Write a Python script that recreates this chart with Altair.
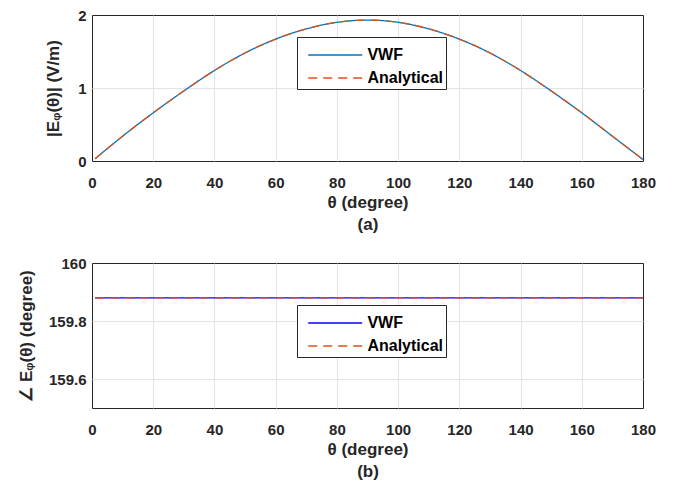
import altair as alt
import pandas as pd

theta_top = [1, 10, 20, 30, 40, 50, 60, 70, 80, 90, 100, 110, 120, 130, 140, 150, 160, 170, 180]
vwf_mag = [0.03, 0.34, 0.66, 0.96, 1.24, 1.48, 1.67, 1.81, 1.90, 1.93, 1.90, 1.81, 1.67, 1.48, 1.24, 0.96, 0.66, 0.34, 0.02]
ana_mag = [0.03, 0.34, 0.66, 0.96, 1.24, 1.48, 1.67, 1.81, 1.90, 1.93, 1.90, 1.81, 1.67, 1.48, 1.24, 0.96, 0.66, 0.34, 0.02]

theta_bot = [1, 45, 90, 135, 180]
vwf_phase = [159.88, 159.88, 159.88, 159.88, 159.88]
ana_phase = [159.88, 159.88, 159.88, 159.88, 159.88]

series = ["VWF", "Analytical"]
x_ticks = [0, 20, 40, 60, 80, 100, 120, 140, 160, 180]
x_grid = [20, 40, 60, 80, 100, 120, 140, 160]

top_df = pd.DataFrame(
    [{"theta": t, "v": v, "s": "VWF"} for t, v in zip(theta_top, vwf_mag)]
    + [{"theta": t, "v": v, "s": "Analytical"} for t, v in zip(theta_top, ana_mag)]
)
bot_df = pd.DataFrame(
    [{"theta": t, "v": v, "s": "VWF"} for t, v in zip(theta_bot, vwf_phase)]
    + [{"theta": t, "v": v, "s": "Analytical"} for t, v in zip(theta_bot, ana_phase)]
)

FONT = "Liberation Sans"


def legend(ly):
    return alt.Legend(
        title=None, orient="none", legendX=205, legendY=ly,
        fillColor="white", strokeColor="#262626", padding=3,
        labelFont=FONT, labelFontSize=16, labelFontWeight="bold", labelColor="black",
        symbolType="M-1.957,0H1.957", symbolSize=760, symbolStrokeWidth=1.5,
        symbolOffset=20.2, labelOffset=17.2, rowPadding=0,
    )


def panel(df, ytitle, ydomain, yticks, ygrid, colors, tag, ytp, height, ly):
    xs = alt.Scale(domain=[0, 180], nice=False)
    ys = alt.Scale(domain=ydomain, nice=False, zero=False)
    base = alt.Chart(df).transform_calculate(o="datum.s == 'VWF' ? 0 : 1")
    grid = base.mark_point(opacity=0).encode(
        x=alt.X("theta:Q", scale=xs, axis=alt.Axis(orient="top", values=x_grid, labels=False, ticks=False,
                                                   domain=False, grid=True, title=None)),
        y=alt.Y("v:Q", scale=ys, axis=alt.Axis(orient="right", values=ygrid, labels=False, ticks=False,
                                               domain=False, grid=True, title=None)),
    )
    lines = base.mark_line(strokeWidth=1.3, interpolate="monotone").encode(
        x=alt.X("theta:Q", scale=xs,
                axis=alt.Axis(values=x_ticks, title=["θ (degree)", tag], ticks=False, labelPadding=14,
                              titlePadding=4, titleLineHeight=22, grid=False, domain=False, format="d",
                              labelOverlap=False, labelFlush=False)),
        y=alt.Y("v:Q", scale=ys,
                axis=alt.Axis(values=yticks, title=ytitle, ticks=False, labelPadding=6,
                              titlePadding=ytp, grid=False, domain=False, format="~g",
                              labelOverlap=False, labelFlush=False)),
        color=alt.Color("s:N", sort=series, scale=alt.Scale(domain=series, range=colors), legend=legend(ly)),
        strokeDash=alt.StrokeDash("s:N", sort=series,
                                  scale=alt.Scale(domain=series, range=[[1, 0], [9, 6]]), legend=legend(ly)),
        order=alt.Order("o:Q"),
    )
    return alt.layer(grid, lines).resolve_axis(x="independent", y="independent").properties(
        width=551, height=height)


top = panel(top_df, "|Eᵩ(θ)| (V/m)", [0, 2], [0, 1, 2], [1], ["#0072BD", "#D95319"], "(a)", 15, 146, 22)
bot = panel(bot_df, "∠ Eᵩ(θ) (degree)", [159.5, 160], [159.6, 159.8, 160], [159.6, 159.8],
            ["#0000FF", "#D95319"], "(b)", 13, 145, 42)

chart = alt.vconcat(top, bot, spacing=22).resolve_scale(
    color="independent", strokeDash="independent"
).configure(
    padding={"left": 8, "top": -1, "right": 5, "bottom": 0}
).configure_axis(
    labelFont=FONT, labelFontSize=15, labelFontWeight="bold", labelColor="#262626",
    titleFont=FONT, titleFontSize=17, titleFontWeight="bold", titleColor="#262626",
    gridColor="#E3E3E3", gridWidth=1,
).configure_view(stroke="#262626", strokeWidth=1)

chart.save("out.html", embed_options={"renderer": "svg", "actions": False})
